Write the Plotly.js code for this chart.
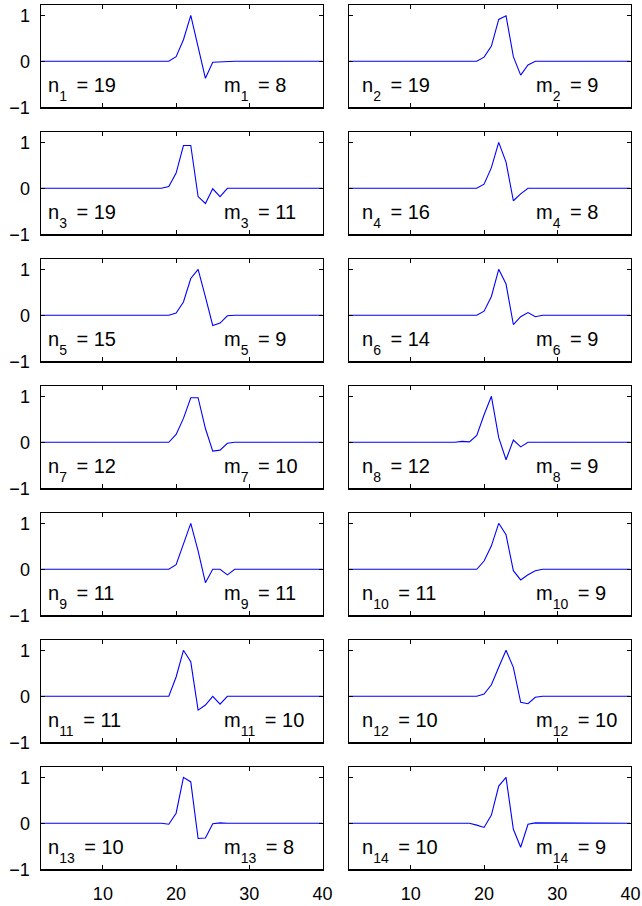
<!DOCTYPE html>
<html>
<head>
<meta charset="utf-8">
<script src="https://cdn.plot.ly/plotly-3.0.1.min.js"></script>
<style>
  html, body { margin: 0; padding: 0; background: #fff; }
  #chart { width: 642px; height: 906px; }
</style>
</head>
<body>
<div id="chart"></div>
<script>
// sample index 1..40
const xs = [1,2,3,4,5,6,7,8,9,10,11,12,13,14,15,16,17,18,19,20,
            21,22,23,24,25,26,27,28,29,30,31,32,33,34,35,36,37,38,39,40];

// one waveform per panel (x = 1..40)
const w1  = [0,0,0,0,0,0,0,0,0,0,0,0,0,0,0,0,0,0,0,0.10,0.47,1.00,0.31,-0.37,-0.02,-0.01,0,0,0,0,0,0,0,0,0,0,0,0,0,0];
const w2  = [0,0,0,0,0,0,0,0,0,0,0,0,0,0,0,0,0,0,0,0.09,0.33,0.91,0.99,0.10,-0.30,-0.08,0,0,0,0,0,0,0,0,0,0,0,0,0,0];
const w3  = [0,0,0,0,0,0,0,0,0,0,0,0,0,0,0,0,0,0,0.04,0.33,0.93,0.93,-0.18,-0.33,-0.01,-0.18,0,0,0,0,0,0,0,0,0,0,0,0,0,0];
const w4  = [0,0,0,0,0,0,0,0,0,0,0,0,0,0,0,0,0,0,0,0.09,0.45,1.00,0.57,-0.27,-0.12,0,0,0,0,0,0,0,0,0,0,0,0,0,0,0];
const w5  = [0,0,0,0,0,0,0,0,0,0,0,0,0,0,0,0,0,0,0,0.05,0.29,0.80,1.00,0.40,-0.22,-0.17,-0.01,0,0,0,0,0,0,0,0,0,0,0,0,0];
const w6  = [0,0,0,0,0,0,0,0,0,0,0,0,0,0,0,0,0,0,0,0.09,0.41,1.00,0.68,-0.20,-0.03,0.06,-0.03,0,0,0,0,0,0,0,0,0,0,0,0,0];
const w7  = [0,0,0,0,0,0,0,0,0,0,0,0,0,0,0,0,0,0,0,0.17,0.52,0.97,0.97,0.30,-0.19,-0.17,-0.02,0,0,0,0,0,0,0,0,0,0,0,0,0];
const w8  = [0,0,0,0,0,0,0,0,0,0,0,0,0,0,0,0,0.02,0.01,0.15,0.60,1.00,0.10,-0.38,0.05,-0.10,0,0,0,0,0,0,0,0,0,0,0,0,0,0,0];
const w9  = [0,0,0,0,0,0,0,0,0,0,0,0,0,0,0,0,0,0,0,0.10,0.55,1.00,0.40,-0.29,0,0,-0.12,0,0,0,0,0,0,0,0,0,0,0,0,0];
const w10 = [0,0,0,0,0,0,0,0,0,0,0,0,0,0,0,0,0,0,0,0.18,0.51,1.00,0.75,-0.03,-0.23,-0.12,-0.03,0,0,0,0,0,0,0,0,0,0,0,0,0];
const w11 = [0,0,0,0,0,0,0,0,0,0,0,0,0,0,0,0,0,0,0,0.42,1.00,0.75,-0.30,-0.19,0,-0.17,0,0,0,0,0,0,0,0,0,0,0,0,0,0];
const w12 = [0,0,0,0,0,0,0,0,0,0,0,0,0,0,0,0,0,0,0,0.05,0.25,0.63,1.00,0.63,-0.13,-0.16,-0.02,0,0,0,0,0,0,0,0,0,0,0,0,0];
const w13 = [0,0,0,0,0,0,0,0,0,0,0,0,0,0,0,0,0,0,-0.02,0.22,1.00,0.90,-0.33,-0.32,-0.01,0.01,0,0,0,0,0,0,0,0,0,0,0,0,0,0];
const w14 = [0,0,0,0,0,0,0,0,0,0,0,0,0,0,0,0,0,0,-0.04,-0.09,0.18,0.81,1.00,-0.13,-0.52,-0.02,0.01,0.01,0,0,0,0,0,0,0,0,0,0,0,0];

const waves = [w1, w2, w3, w4, w5, w6, w7, w8, w9, w10, w11, w12, w13, w14];

// panel labels
const nVals = [19, 19, 19, 16, 15, 14, 12, 12, 11, 11, 11, 10, 10, 10];
const mVals = [8, 9, 11, 8, 9, 9, 10, 9, 11, 9, 10, 10, 8, 9];

const xTicks = [10, 20, 30, 40];
const yTicks = [-1, 0, 1];

const W = 642, H = 906;
const FONT = 'Liberation Sans, Arial, Helvetica, sans-serif';
const THIN = '\u2009';

// pixel geometry of the grid
const colPx = [[41, 322.6], [349, 630.5]];
const rowTop0 = 5.2, rowBottom0 = 107.3, rowStep = 127;

// MATLAB-like low subscript
function label(sym, k, val) {
  return sym + '<sub><span style="baseline-shift:-5px">' + k + '</span></sub>' + THIN + ' = ' + val;
}

const traces = [];
const layout = {
  width: W,
  height: H,
  margin: { l: 0, r: 0, t: 0, b: 0 },
  showlegend: false,
  paper_bgcolor: '#ffffff',
  plot_bgcolor: '#ffffff',
  annotations: []
};

waves.forEach((w, i) => {
  const k = i + 1;
  const row = Math.floor(i / 2);
  const col = i % 2;
  const suffix = k === 1 ? '' : String(k);
  const isBottom = row === 6;

  traces.push({
    x: xs,
    y: w,
    xaxis: 'x' + suffix,
    yaxis: 'y' + suffix,
    type: 'scatter',
    mode: 'lines',
    line: { color: '#0000ff', width: 1.1 },
    hoverinfo: 'skip'
  });

  const top = rowTop0 + rowStep * row;
  const bottom = rowBottom0 + rowStep * row;
  const [x0, x1] = colPx[col];

  layout['xaxis' + suffix] = {
    domain: [x0 / W, x1 / W],
    anchor: 'y' + suffix,
    range: [1.55, 40],
    tickvals: xTicks,
    ticks: 'inside',
    ticklen: 4,
    tickwidth: 1,
    tickcolor: '#000',
    showticklabels: isBottom,
    ticklabelstandoff: 8,
    tickfont: { family: FONT, size: 18, color: '#000' },
    showline: true,
    linecolor: '#000',
    linewidth: 1.5,
    mirror: 'ticks',
    showgrid: false,
    zeroline: false,
    fixedrange: true
  };

  layout['yaxis' + suffix] = {
    domain: [1 - bottom / H, 1 - top / H],
    anchor: 'x' + suffix,
    range: [-1, 1.22],
    tickvals: yTicks,
    ticks: 'inside',
    ticklen: 4,
    tickwidth: 1,
    tickcolor: '#000',
    showticklabels: col === 0,
    ticklabelstandoff: 6,
    tickfont: { family: FONT, size: 18, color: '#000' },
    showline: true,
    linecolor: '#000',
    linewidth: 1.5,
    mirror: 'ticks',
    showgrid: false,
    zeroline: false,
    fixedrange: true
  };

  const labelFont = { family: FONT, size: 20, color: '#000' };
  layout.annotations.push({
    xref: 'x' + suffix, yref: 'y' + suffix,
    x: col === 0 ? 2.2 : 3.0, y: -0.6,
    xanchor: 'left', yanchor: 'middle',
    text: label('n', k, nVals[i]),
    showarrow: false,
    font: labelFont
  });
  layout.annotations.push({
    xref: 'x' + suffix, yref: 'y' + suffix,
    x: col === 0 ? 26.3 : 26.8, y: -0.6,
    xanchor: 'left', yanchor: 'middle',
    text: label('m', k, mVals[i]),
    showarrow: false,
    font: labelFont
  });
});

Plotly.newPlot('chart', traces, layout, { displayModeBar: false, staticPlot: true });
</script>
</body>
</html>
